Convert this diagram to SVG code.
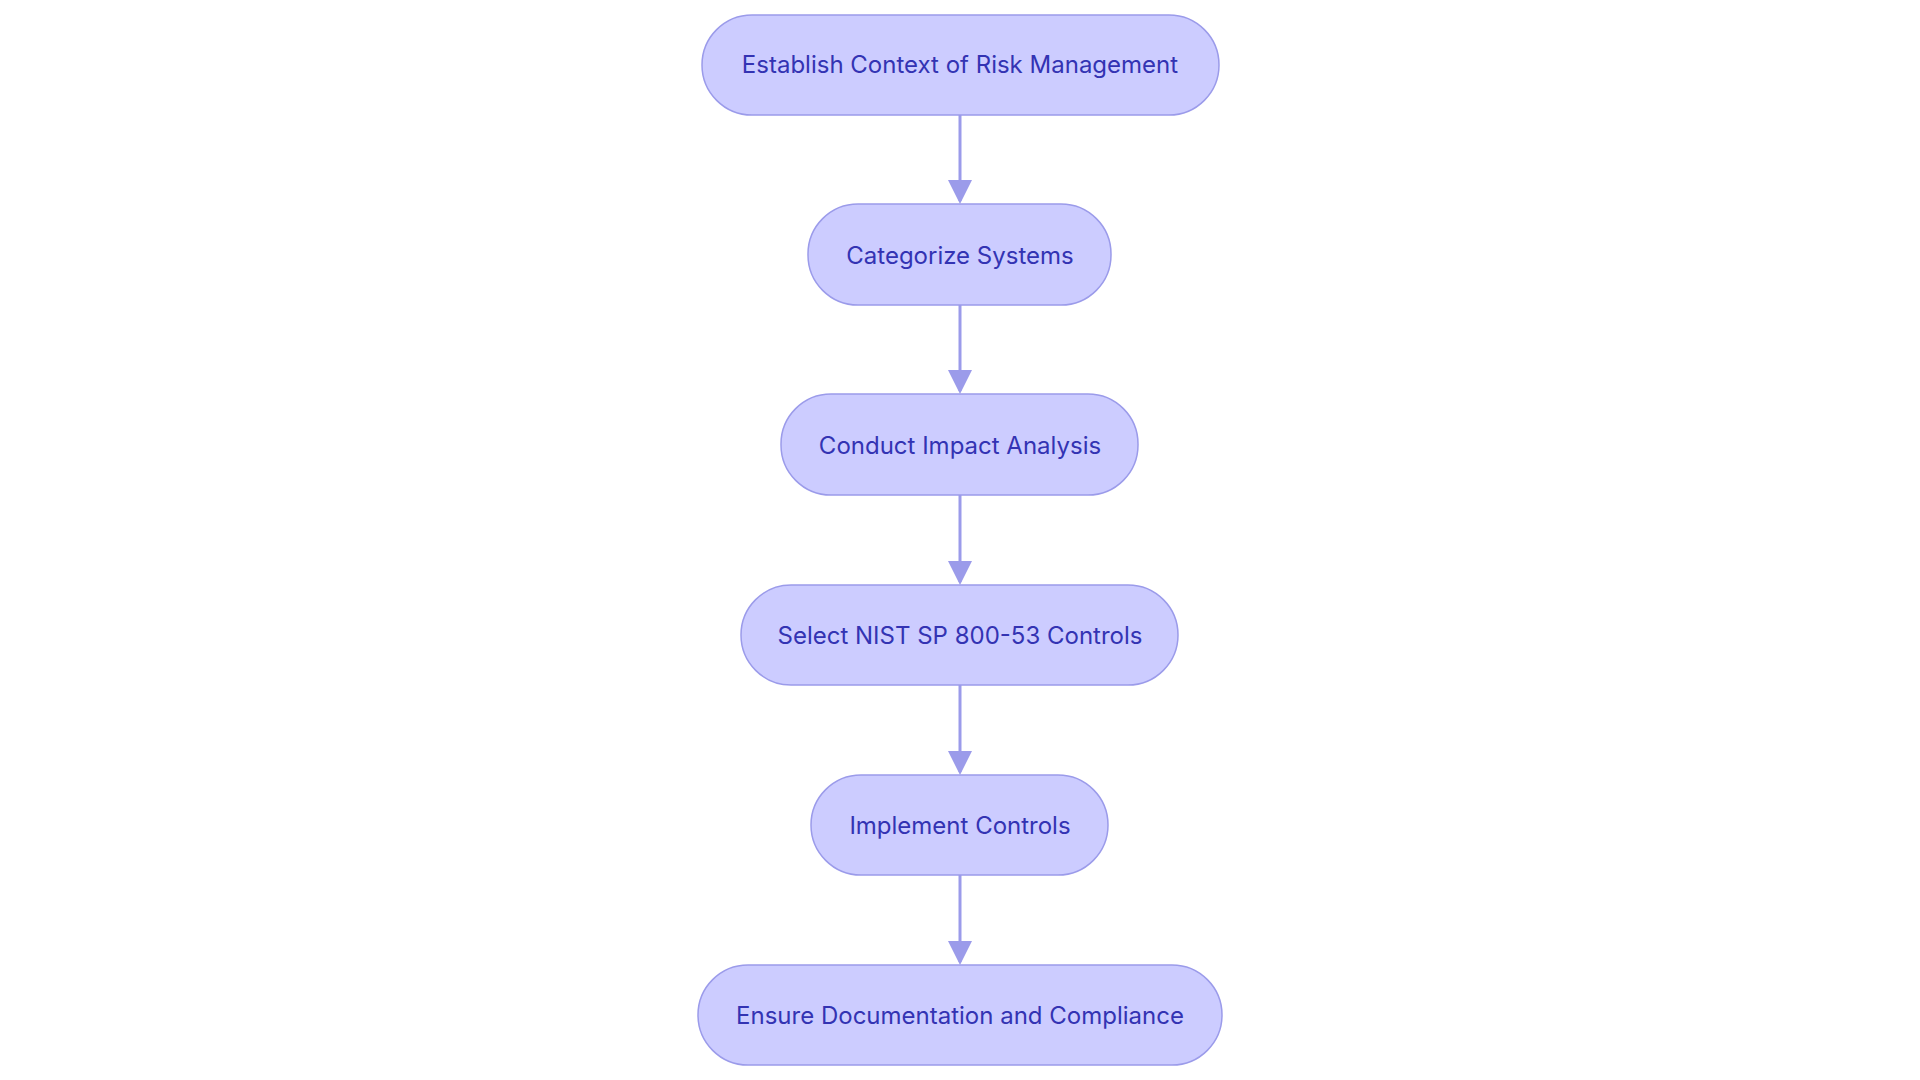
<svg xmlns="http://www.w3.org/2000/svg" width="1920" height="1080" viewBox="0 0 1920 1080">
<style>
.n rect{fill:#ccccff;stroke:#9b9bea;stroke-width:1.5}
.n text{font-family:Inter,"Liberation Sans",sans-serif;font-size:24px;fill:#3333b3;text-anchor:middle;dominant-baseline:central}
.e line{stroke:#9b9bea;stroke-width:3;marker-end:url(#a)}
</style>
<defs><marker id="a" markerWidth="8" markerHeight="8" refX="7" refY="4" orient="auto" markerUnits="strokeWidth"><path d="M0,0 L8,4 L0,8 z" fill="#9b9bea"/></marker></defs>
<rect width="1920" height="1080" fill="#fff"/>
<g id="edges" class="e">
<line x1="960" y1="115" x2="960" y2="201"/>
<line x1="960" y1="305" x2="960" y2="391"/>
<line x1="960" y1="495" x2="960" y2="582"/>
<line x1="960" y1="685" x2="960" y2="772"/>
<line x1="960" y1="875" x2="960" y2="962"/>
</g>
<g id="n1" class="n"><rect x="702" y="15" width="517" height="100" rx="50"/><text x="960" y="64">Establish Context of Risk Management</text></g>
<g id="n2" class="n"><rect x="808" y="204" width="303" height="101" rx="50"/><text x="960" y="255">Categorize Systems</text></g>
<g id="n3" class="n"><rect x="781" y="394" width="357" height="101" rx="50"/><text x="960" y="445">Conduct Impact Analysis</text></g>
<g id="n4" class="n"><rect x="741" y="585" width="437" height="100" rx="50"/><text x="960" y="635">Select NIST SP 800-53 Controls</text></g>
<g id="n5" class="n"><rect x="811" y="775" width="297" height="100" rx="50"/><text x="960" y="825">Implement Controls</text></g>
<g id="n6" class="n"><rect x="698" y="965" width="524" height="100" rx="50"/><text x="960" y="1015">Ensure Documentation and Compliance</text></g>
</svg>
